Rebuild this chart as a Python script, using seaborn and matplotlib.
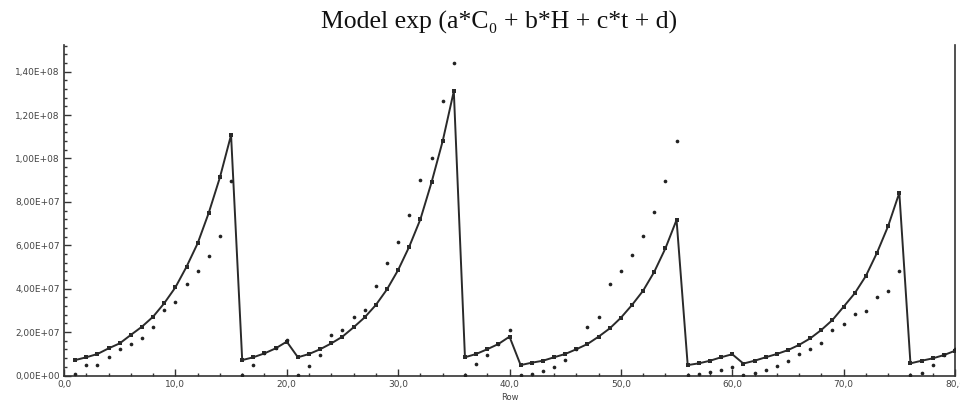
import pandas as pd
import matplotlib
matplotlib.use("Agg")
import matplotlib.pyplot as plt
import seaborn as sns
from matplotlib.ticker import MultipleLocator, FuncFormatter

# Datos (valores x 1e7)
rows = list(range(1, 81))
modelo = [0.71, 0.84, 0.99, 1.25, 1.48, 1.87, 2.25, 2.71, 3.33, 4.06,
          5.01, 6.09, 7.50, 9.13, 11.08, 0.71, 0.84, 1.02, 1.25, 1.56,
          0.84, 0.99, 1.21, 1.48, 1.79, 2.22, 2.68, 3.25, 3.97, 4.86,
          5.94, 7.20, 8.90, 10.80, 13.10, 0.84, 0.99, 1.21, 1.45, 1.79,
          0.48, 0.59, 0.68, 0.84, 0.99, 1.21, 1.45, 1.79, 2.17, 2.66,
          3.25, 3.91, 4.78, 5.86, 7.17, 0.48, 0.56, 0.68, 0.84, 0.98,
          0.55, 0.68, 0.84, 0.99, 1.17, 1.41, 1.71, 2.10, 2.56, 3.17,
          3.79, 4.59, 5.66, 6.89, 8.42, 0.56, 0.68, 0.79, 0.94, 1.14]
observado = [0.05, 0.48, 0.48, 0.87, 1.21, 1.44, 1.74, 2.22, 3.02, 3.37,
             4.22, 4.83, 5.52, 6.43, 8.98, 0.03, 0.48, 1.05, 1.28, 1.62,
             0.03, 0.45, 0.94, 1.88, 2.08, 2.68, 3.02, 4.12, 5.20, 6.14,
             7.38, 9.01, 10.00, 12.65, 14.40, 0.03, 0.53, 0.94, 1.45, 2.08,
             0.03, 0.07, 0.20, 0.40, 0.71, 1.21, 2.23, 2.71, 4.22, 4.83,
             5.53, 6.43, 7.55, 8.95, 10.82, 0.02, 0.07, 0.18, 0.25, 0.41,
             0.02, 0.10, 0.25, 0.44, 0.68, 0.99, 1.21, 1.48, 2.10, 2.37,
             2.83, 2.99, 3.63, 3.91, 4.83, 0.02, 0.12, 0.48, 0.94, 1.20]

df = pd.DataFrame({
    "Row": rows,
    "modelo": [v * 1e7 for v in modelo],
    "observado": [v * 1e7 for v in observado],
})

sns.set_theme(style="white")
plt.rcParams['font.family'] = ['DejaVu Sans']

fig = plt.figure(figsize=(9.6, 4.09), dpi=100)
ax = fig.add_axes([64 / 960, 1 - 375.5 / 409, (955 - 64) / 960, (375.5 - 45) / 409])

sns.lineplot(data=df, x="Row", y="modelo", ax=ax, color="#2a2a2a", linewidth=1.4,
             marker="s", markersize=2.4, markeredgewidth=0, zorder=3)
sns.scatterplot(data=df, x="Row", y="observado", ax=ax, color="#222222",
                s=7, linewidth=0, zorder=4)

ax.set_xlim(0, 80)
ax.set_ylim(0, 1.523e8)

ax.xaxis.set_major_locator(MultipleLocator(10))
ax.xaxis.set_minor_locator(MultipleLocator(2))
ax.yaxis.set_major_locator(MultipleLocator(2e7))
ax.yaxis.set_minor_locator(MultipleLocator(4e6))
ax.xaxis.set_major_formatter(FuncFormatter(lambda v, p: f"{v:.1f}".replace('.', ',')))
ax.yaxis.set_major_formatter(FuncFormatter(lambda v, p: f"{v:.2E}".replace('.', ',')))

ax.tick_params(axis="both", which="major", direction="in", length=5, width=1,
               color="#333333", labelsize=6.5, labelcolor="#444444", pad=3,
               bottom=True, left=True)
ax.tick_params(axis="both", which="minor", direction="in", length=2.5, width=1,
               color="#333333", bottom=True, left=True)

for s in ["left", "bottom", "right"]:
    ax.spines[s].set_color("#333333")
    ax.spines[s].set_linewidth(1.2)
ax.spines["top"].set_visible(False)

ax.set_xlabel("Row", fontsize=6, color="#444444", labelpad=3)
ax.set_ylabel("")

fig.text(499 / 960, 1 - 22 / 409, "Model exp (a*C\u2080 + b*H + c*t + d)",
         ha="center", va="center", fontsize=18.5,
         family=["Liberation Serif", "DejaVu Serif"], color="#111111")

fig.savefig("out.png", dpi=100)
